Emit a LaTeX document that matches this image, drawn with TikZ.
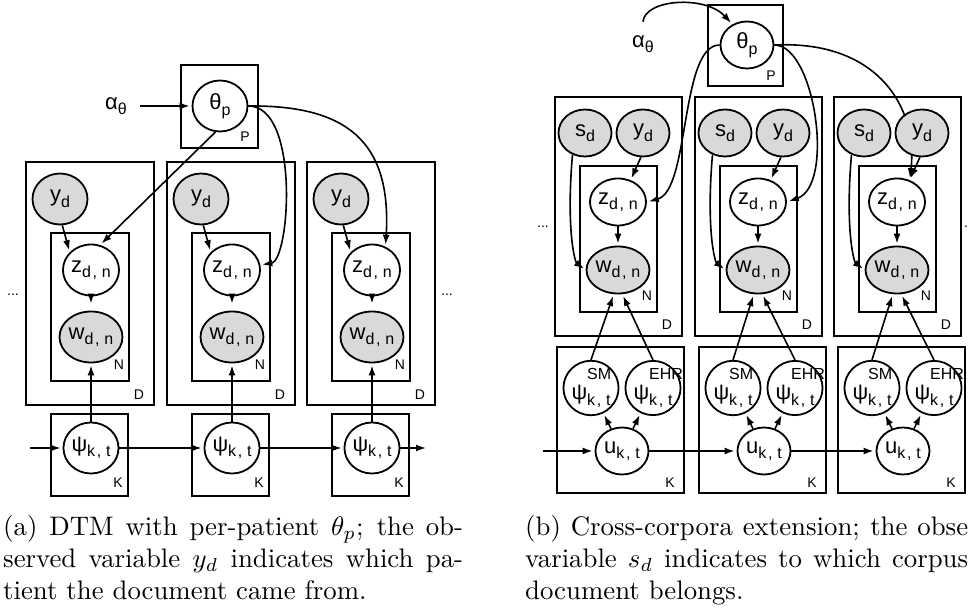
\documentclass[tikz,border=0pt]{standalone}
\usepackage{fontspec}
\newfontfamily\gmfont{Liberation Sans}
\usetikzlibrary{arrows.meta,shapes.geometric}
\pgfdeclarelayer{back}
\pgfsetlayers{back,main}
\newcommand{\lo}[1]{\raisebox{-0.25em}{\fontsize{16}{16}\selectfont #1}}
\newcommand{\hi}[1]{\rlap{\raisebox{0.9em}{\fontsize{16}{16}\selectfont #1}}}
\newcommand{\cm}{\hspace{0.1em},\hspace{0.3em}}

\begin{document}
\begin{tikzpicture}[x=1pt,y=-1pt,
    latent/.style={ellipse, draw, line width=1.8pt, fill=white, inner sep=0pt,
      minimum width=55pt, minimum height=51pt, font=\gmfont\fontsize{22}{22}\selectfont},
    obs/.style={latent, fill=black!15},
    slim/.style={minimum width=53pt, minimum height=47pt},
    plate/.style={draw, line width=2.4pt},
    tag/.style={font=\gmfont\fontsize{14}{14}\selectfont, inner sep=0pt},
    hyper/.style={font=\gmfont\fontsize{22}{22}\selectfont},
    arr/.style={-{Latex[length=10pt,width=7pt]}, line width=1.6pt, shorten >=2pt},
    capt/.style={anchor=north west, inner sep=0pt}]
  \clip (0,0) rectangle (970,609);

  % (a) DTM with per-patient theta
  \draw[plate] (181,65) rectangle (258,148);
  \node[tag] (tagPA) at (245,137) {P};
  \node[latent] (thA) at (220,106) {θ\lo{p}};
  \node[hyper] (alA) at (116,106) {α\lo{θ}};
  \draw[arr] ([xshift=10pt]alA.east) -- (thA);
  \foreach \i/\dx in {1/0,2/141,3/281} {
    \draw[plate] (26+\dx,162) rectangle (154+\dx,405);
    \draw[plate] (51+\dx,233) rectangle (129+\dx,381);
    \draw[plate] (51+\dx,414) rectangle (128+\dx,496);
    \node[tag] (tagDA\i) at (139+\dx,395) {D};
    \node[tag] (tagNA\i) at (119+\dx,365) {N};
    \node[tag] (tagKA\i) at (118+\dx,483) {K};
    \node[obs] (yA\i) at (60+\dx,199) {y\lo{d}};
    \node[latent] (zA\i) at (91+\dx,270) {z\lo{d\cm n}};
    \node[obs] (wA\i) at (91+\dx,337) {w\lo{d\cm n}};
    \node[latent] (psA\i) at (91+\dx,448) {ψ\lo{k\cm t}};
    \draw[arr] (yA\i.-85) -- (zA\i.140);
    \draw[arr, shorten >=7pt] (zA\i) -- (wA\i);
    \draw[arr] (psA\i) -- (wA\i);
  }
  \coordinate (inA) at (30,448);
  \coordinate (outA) at (428,448);
  \draw[arr] (inA) -- (psA1);
  \draw[arr] (psA1) -- (psA2);
  \draw[arr] (psA2) -- (psA3);
  \draw[arr] (psA3) -- (outA);
  \draw[arr] (thA.-100) -- (zA1.70);
  \draw[arr] (thA.east) .. controls (300,106) and (290,260) .. (zA2.10);
  \draw[arr] (thA.east) .. controls (345,105) and (392,140) .. (zA3.60);
  \node[tag] (dotA1) at (13,295) {...};
  \node[tag] (dotA2) at (447,295) {...};

  % (b) cross-corpora
  \draw[plate] (708,5) rectangle (783,86);
  \node[tag] (tagPB) at (771,76) {P};
  \node[latent, slim] (thB) at (747,45) {θ\lo{p}};
  \node[hyper] (alB) at (643,44) {α\lo{θ}};
  \draw[arr] ([yshift=10pt]alB.north) .. controls (645,-1) and (705,-5) .. (thB.125);
  \foreach \i/\dx/\dk in {1/0/0,2/140/142,3/279/281} {
    \draw[plate] (555+\dx,97) rectangle (682+\dx,336);
    \draw[plate] (580+\dx,166) rectangle (657+\dx,312);
    \draw[plate] (557+\dk,347) rectangle (684+\dk,493);
    \node[tag] (tagDB\i) at (667+\dx,325) {D};
    \node[tag] (tagNB\i) at (647+\dx,296) {N};
    \node[tag] (tagKB\i) at (670+\dk,483) {K};
    \node[obs, slim] (sB\i) at (585+\dx,133) {s\lo{d}};
    \node[obs, slim] (yB\i) at (643+\dx,133) {y\lo{d}};
    \node[latent, slim] (zB\i) at (618+\dx,202) {z\lo{d\cm n}};
    \node[obs, slim] (wB\i) at (618+\dx,270) {w\lo{d\cm n}};
    \node[latent, slim] (smB\i) at (591+\dk,388) {ψ\hi{SM}\lo{k\cm t}};
    \node[latent, slim] (ehB\i) at (653+\dk,388) {ψ\hi{EHR}\lo{k\cm t}};
    \node[latent, slim] (uB\i) at (622+\dk,451) {u\lo{k\cm t}};
    \draw[arr] (yB\i.-95) -- (zB\i.60);
    \draw[arr] (zB\i) -- (wB\i);
    \draw[arr] (sB\i.240) .. controls (566+\dx,230) and (575+\dx,262) .. (wB\i.west);
    \draw[arr] (uB\i) -- (smB\i);
    \draw[arr] (uB\i) -- (ehB\i);
    \draw[arr] (smB\i.north) -- (wB\i.-100);
    \draw[arr] (ehB\i.north) -- (wB\i.-80);
  }
  \coordinate (inB) at (543,451);
  \draw[arr] (inB) -- (uB1);
  \draw[arr] (uB1) -- (uB2);
  \draw[arr] (uB2) -- (uB3);
  \draw[arr] (thB.west) .. controls (680,45) and (690,190) .. (zB1.east);
  \draw[arr] (thB.east) .. controls (815,45) and (835,185) .. (zB2.east);
  \begin{pgfonlayer}{back}
    \draw[arr] (thB.east) .. controls (880,40) and (918,110) .. (zB3.60);
  \end{pgfonlayer}
  \node[tag] (dotB1) at (543,227) {...};
  \node[tag] (dotB2) at (966,227) {.};

  \node[capt] (capA) at (3,515) {\scalebox{2.68}{\parbox[t]{171.6pt}{\fontsize{10}{11.94}\selectfont
    (a) DTM with per-patient $\theta_p$; the ob-\linebreak served variable $y_d$ indicates which pa-\linebreak tient the document came from.}}};
  \node[capt] (capB) at (525,515) {\scalebox{2.68}{\parbox[t]{165.3pt}{\fontsize{10}{11.94}\selectfont
    \makebox[165.3pt][s]{(b) Cross-corpora extension; the obse}\\
    \makebox[165.3pt][s]{variable $s_d$ indicates to which corpus}\\
    document belongs.}}};
\end{tikzpicture}
\end{document}
